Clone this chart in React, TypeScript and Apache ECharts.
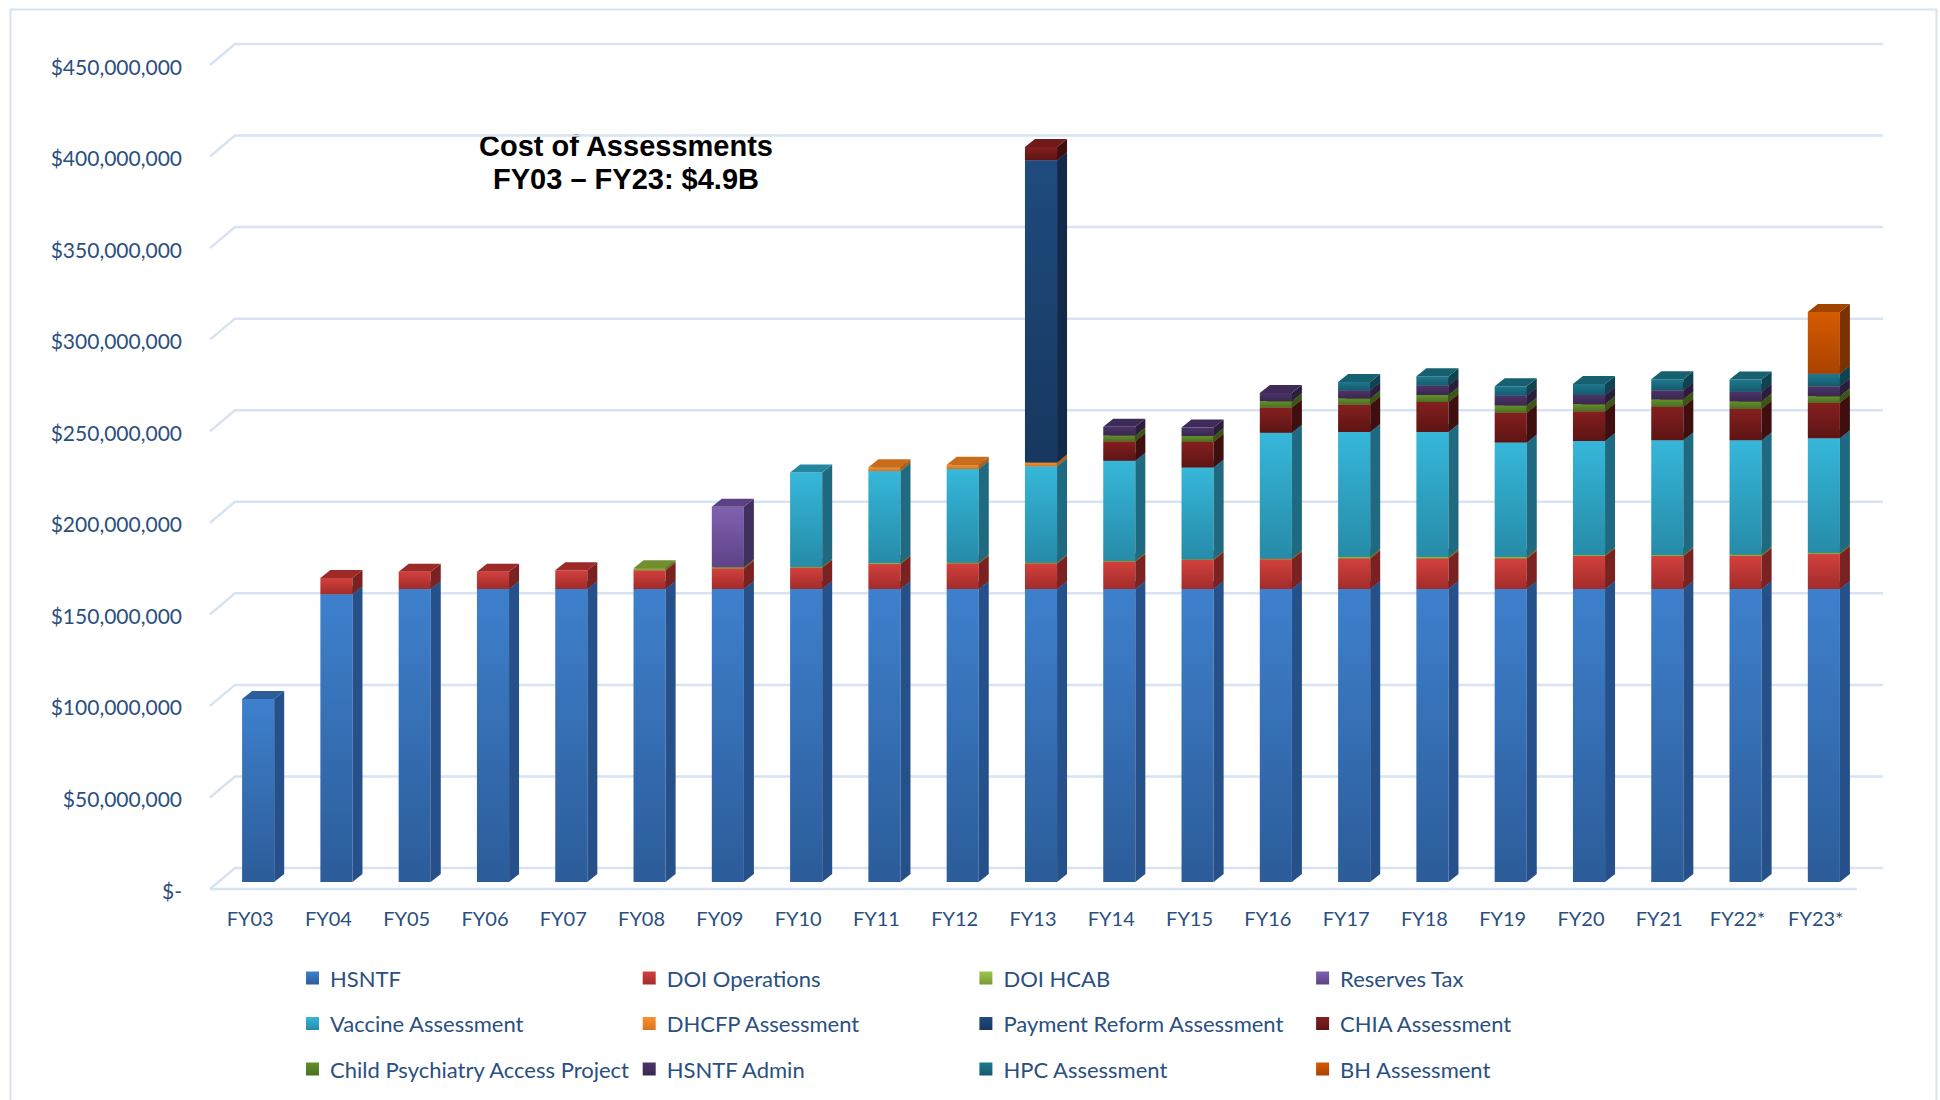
import React, { useEffect, useRef } from 'react';
import * as echarts from 'echarts';

// Values in $ millions
const categories = ['FY03','FY04','FY05','FY06','FY07','FY08','FY09','FY10','FY11','FY12','FY13','FY14','FY15','FY16','FY17','FY18','FY19','FY20','FY21','FY22*','FY23*'];

const hsntf          = [100, 157.2, 160, 160, 160, 160, 160, 160, 160, 160, 160, 160, 160, 160, 160, 160, 160, 160, 160, 160, 160];
const doiOperations  = [0, 8.8, 9.4, 9.4, 10.3, 10.3, 11.2, 11.6, 13.6, 14.0, 14.0, 14.9, 15.8, 16.2, 16.7, 16.7, 16.7, 18.0, 18.0, 18.0, 19.1];
const doiHcab        = [0, 0, 0, 0, 0, 1.1, 0.7, 0.5, 0.6, 0.5, 0.5, 0.5, 0.5, 0.5, 0.9, 0.9, 0.9, 0.6, 0.6, 0.8, 0.7];
const reservesTax    = [0, 0, 0, 0, 0, 0, 33.0, 0, 0, 0, 0, 0, 0, 0, 0, 0, 0, 0, 0, 0, 0];
const vaccine        = [0, 0, 0, 0, 0, 0, 0, 51.5, 50.3, 51.1, 52.6, 54.6, 50.1, 68.6, 68.2, 68.2, 62.4, 62.3, 62.7, 62.5, 62.6];
const dhcfp          = [0, 0, 0, 0, 0, 0, 0, 0, 2.0, 2.2, 2.0, 0, 0, 0, 0, 0, 0, 0, 0, 0, 0];
const paymentReform  = [0, 0, 0, 0, 0, 0, 0, 0, 0, 0, 165.0, 0, 0, 0, 0, 0, 0, 0, 0, 0, 0];
const chia           = [0, 0, 0, 0, 0, 0, 0, 0, 0, 0, 7.3, 10.7, 14.0, 13.8, 15.0, 16.4, 16.2, 16.2, 18.2, 17.1, 19.3];
const childPsych     = [0, 0, 0, 0, 0, 0, 0, 0, 0, 0, 0, 3.2, 3.1, 3.5, 3.3, 3.7, 4.0, 3.8, 4.0, 4.0, 3.6];
const hsntfAdmin     = [0, 0, 0, 0, 0, 0, 0, 0, 0, 0, 0, 4.7, 4.7, 4.5, 4.5, 5.2, 5.5, 5.1, 5.1, 5.3, 5.5];
const hpc            = [0, 0, 0, 0, 0, 0, 0, 0, 0, 0, 0, 0, 0, 0, 4.5, 5.1, 5.1, 6.0, 6.0, 6.7, 6.7];
const bh             = [0, 0, 0, 0, 0, 0, 0, 0, 0, 0, 0, 0, 0, 0, 0, 0, 0, 0, 0, 0, 33.8];

const seriesNames = [
  'HSNTF', 'DOI Operations', 'DOI HCAB', 'Reserves Tax',
  'Vaccine Assessment', 'DHCFP Assessment', 'Payment Reform Assessment', 'CHIA Assessment',
  'Child Psychiatry Access Project', 'HSNTF Admin', 'HPC Assessment', 'BH Assessment',
];
const seriesValues = [hsntf, doiOperations, doiHcab, reservesTax, vaccine, dhcfp, paymentReform, chia, childPsych, hsntfAdmin, hpc, bh];

// [front top, front bottom, side, top face]
const seriesColors = [
  ['#3e80cd', '#2c5c99', '#25508a', '#2c5d9a'],
  ['#d2403d', '#a22c2a', '#7a2222', '#9e2a28'],
  ['#9cc44a', '#789a36', '#5f7a2a', '#6f8f30'],
  ['#8060ae', '#5e4388', '#40305f', '#5c4284'],
  ['#36b7da', '#268ba8', '#1f6a80', '#22879f'],
  ['#f7912e', '#d9741d', '#b05e18', '#c96d1c'],
  ['#1f4b7e', '#17375f', '#12294a', '#173a63'],
  ['#851f1f', '#5d1414', '#3f0e0e', '#701a1a'],
  ['#62902b', '#4b6e20', '#3a5518', '#5a8326'],
  ['#4b3468', '#3a2751', '#2c1d3d', '#3f2b59'],
  ['#1e7890', '#165a6c', '#0f4350', '#17606f'],
  ['#d65b02', '#a94200', '#7a3200', '#a04500'],
];

const yTicks = [0, 50, 100, 150, 200, 250, 300, 350, 400, 450];

const titleLines = 'Cost of Assessments\nFY03 – FY23: $4.9B';

const TEXT_COLOR = '#2a4f80';
const GRID_COLOR = '#d7e2f3';

export default function App() {
  const ref = useRef<HTMLDivElement>(null);

  useEffect(() => {
    const el = ref.current;
    if (!el) return;
    const chart = echarts.init(el, null, { renderer: 'svg' });
    const M = 1e6;
    const n = categories.length;
    const cum = new Array(n).fill(0);
    const bases = seriesValues.map((vals) =>
      vals.map((v, i) => {
        const b = cum[i];
        cum[i] += v;
        return b;
      })
    );
    const DX = 10;
    const DY = 8;

    const grad = (a: string, b: string) =>
      new echarts.graphic.LinearGradient(0, 0, 0, 1, [
        { offset: 0, color: a },
        { offset: 1, color: b },
      ]);

    const barSeries = seriesNames.map((name, s) => {
      const [ft, fb, side, top] = seriesColors[s];
      return {
        type: 'custom',
        name,
        z: 3,
        clip: false,
        data: seriesValues[s].map((v, i) => [i, bases[s][i] * M, v * M]),
        encode: { x: 0, y: 2 },
        itemStyle: { color: grad(ft, fb) },
        renderItem: (params: any, api: any) => {
          const i = api.value(0);
          const base = api.value(1);
          const v = api.value(2);
          if (!v) return null;
          const pb = api.coord([i, base]);
          const pt = api.coord([i, base + v]);
          const w = api.size([1, 0])[0] * 0.41;
          const x0 = pb[0] - w / 2;
          const x1 = pb[0] + w / 2;
          const yb = pb[1];
          const yt = pt[1];
          return {
            type: 'group',
            children: [
              {
                type: 'rect',
                shape: { x: x0, y: yt, width: w, height: yb - yt },
                style: { fill: grad(ft, fb) },
              },
              {
                type: 'polygon',
                shape: { points: [[x1, yt], [x1 + DX, yt - DY], [x1 + DX, yb - DY], [x1, yb]] },
                style: { fill: side },
              },
              {
                type: 'polygon',
                shape: { points: [[x0, yt], [x1, yt], [x1 + DX, yt - DY], [x0 + DX, yt - DY]] },
                style: { fill: top },
              },
            ],
          };
        },
      };
    });

    const gridSeries = {
      type: 'custom',
      name: 'gridlines',
      silent: true,
      z: 1,
      clip: false,
      data: yTicks.map((t) => [0, t * M]),
      encode: { x: 0, y: 1 },
      renderItem: (params: any, api: any) => {
        const val = api.value(1);
        const y = api.coord([0, val])[1];
        const cs = params.coordSys;
        const children: any[] = [
          {
            type: 'polyline',
            shape: { points: [[cs.x - 9, y + 7], [cs.x + 16, y - 14], [cs.x + cs.width + 20, y - 14]] },
            style: { stroke: GRID_COLOR, lineWidth: 2.5, fill: null },
          },
        ];
        if (val === 0) {
          children.push({
            type: 'line',
            shape: { x1: cs.x - 9, y1: y + 7, x2: cs.x + cs.width - 6, y2: y + 7 },
            style: { stroke: GRID_COLOR, lineWidth: 2.5 },
          });
        }
        return { type: 'group', children };
      },
    };

    const legendCols = [0, 1, 2, 3].map((c) => ({
      orient: 'vertical',
      left: 306 + c * 336.7,
      top: 967,
      padding: 0,
      itemWidth: 13,
      itemHeight: 13,
      itemGap: 23.5,
      icon: 'rect',
      data: [seriesNames[c], seriesNames[c + 4], seriesNames[c + 8]],
      textStyle: {
        fontFamily: 'Lato',
        fontSize: 22,
        color: TEXT_COLOR,
        lineHeight: 21,
        padding: [0, 0, 0, 6],
      },
    }));

    chart.setOption({
      animation: false,
      backgroundColor: '#ffffff',
      grid: { left: 219, top: 58, width: 1644, height: 824 },
      xAxis: {
        type: 'category',
        data: categories,
        axisLine: { show: false },
        axisTick: { show: false },
        axisLabel: {
          color: TEXT_COLOR,
          fontFamily: 'Lato',
          fontSize: 20,
          margin: 26,
          padding: [0, 16, 0, 0],
        },
      },
      yAxis: {
        type: 'value',
        min: 0,
        max: 450 * M,
        interval: 50 * M,
        axisLine: { show: false },
        axisTick: { show: false },
        splitLine: { show: false },
        axisLabel: {
          color: TEXT_COLOR,
          fontFamily: 'Lato',
          fontSize: 21,
          margin: 37,
          verticalAlign: 'top',
          lineHeight: 16,
          formatter: (v: number) => (v === 0 ? '$-' : '$' + v.toLocaleString('en-US')),
        },
      },
      legend: legendCols,
      graphic: [
        {
          type: 'rect',
          left: 8,
          top: 7,
          z: 0,
          silent: true,
          shape: { width: 1926, height: 1200 },
          style: { fill: 'none', stroke: GRID_COLOR, lineWidth: 2 },
        },
        {
          type: 'group',
          z: 10,
          children: [
            {
              type: 'rect',
              x: 427,
              y: 110,
              shape: { width: 399, height: 90 },
              style: { fill: '#ffffff' },
            },
            {
              type: 'text',
              x: 626,
              y: 162.5,
              style: {
                text: titleLines,
                fill: '#000000',
                font: 'bold 29px "Liberation Sans", Arial, sans-serif',
                lineHeight: 33,
                textAlign: 'center',
                textVerticalAlign: 'middle',
              },
            },
          ],
        },
      ],
      series: [gridSeries, ...barSeries],
    });

    return () => {
      chart.dispose();
    };
  }, []);

  return (
    <div
      ref={ref}
      style={{ position: 'fixed', left: 0, top: 0, width: '1940px', height: '1100px', background: '#fff' }}
    />
  );
}
